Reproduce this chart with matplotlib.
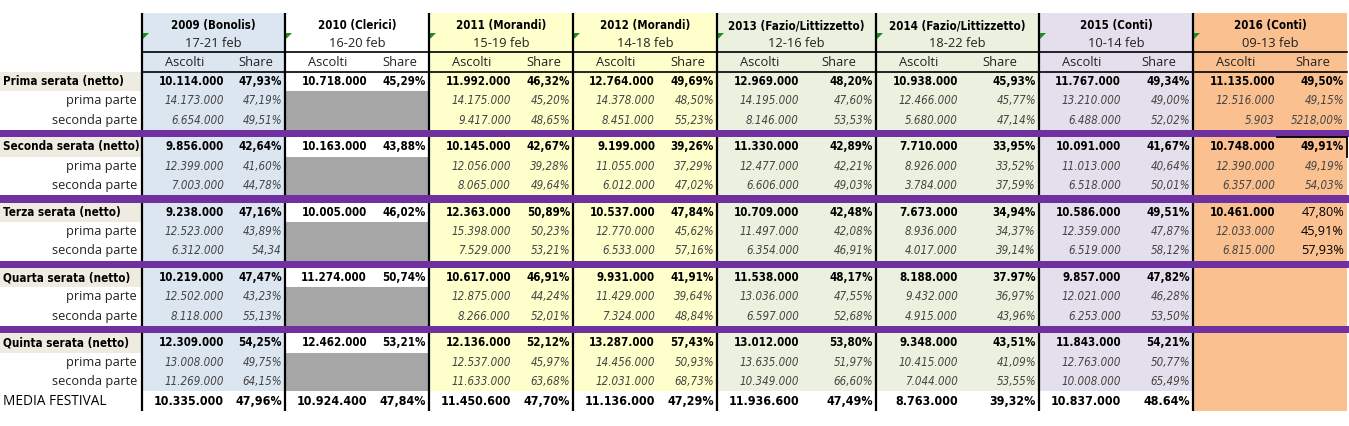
import matplotlib.pyplot as plt
from matplotlib.patches import Rectangle, Polygon

anni = ['2009 (Bonolis)', '2010 (Clerici)', '2011 (Morandi)', '2012 (Morandi)',
        '2013 (Fazio/Littizzetto)', '2014 (Fazio/Littizzetto)', '2015 (Conti)', '2016 (Conti)']
date = ['17-21 feb', '16-20 feb', '15-19 feb', '14-18 feb', '12-16 feb', '18-22 feb', '10-14 feb', '09-13 feb']

serate = ['Prima serata (netto)', 'Seconda serata (netto)', 'Terza serata (netto)',
          'Quarta serata (netto)', 'Quinta serata (netto)']
parti = ['prima parte', 'seconda parte']

# (ascolti, share) per anno, None = cella vuota
prima_netto = [('10.114.000', '47,93%'), ('10.718.000', '45,29%'), ('11.992.000', '46,32%'), ('12.764.000', '49,69%'),
               ('12.969.000', '48,20%'), ('10.938.000', '45,93%'), ('11.767.000', '49,34%'), ('11.135.000', '49,50%')]
prima_p1 = [('14.173.000', '47,19%'), None, ('14.175.000', '45,20%'), ('14.378.000', '48,50%'),
            ('14.195.000', '47,60%'), ('12.466.000', '45,77%'), ('13.210.000', '49,00%'), ('12.516.000', '49,15%')]
prima_p2 = [('6.654.000', '49,51%'), None, ('9.417.000', '48,65%'), ('8.451.000', '55,23%'),
            ('8.146.000', '53,53%'), ('5.680.000', '47,14%'), ('6.488.000', '52,02%'), ('5.903', '5218,00%')]

seconda_netto = [('9.856.000', '42,64%'), ('10.163.000', '43,88%'), ('10.145.000', '42,67%'), ('9.199.000', '39,26%'),
                 ('11.330.000', '42,89%'), ('7.710.000', '33,95%'), ('10.091.000', '41,67%'), ('10.748.000', '49,91%')]
seconda_p1 = [('12.399.000', '41,60%'), None, ('12.056.000', '39,28%'), ('11.055.000', '37,29%'),
              ('12.477.000', '42,21%'), ('8.926.000', '33,52%'), ('11.013.000', '40,64%'), ('12.390.000', '49,19%')]
seconda_p2 = [('7.003.000', '44,78%'), None, ('8.065.000', '49,64%'), ('6.012.000', '47,02%'),
              ('6.606.000', '49,03%'), ('3.784.000', '37,59%'), ('6.518.000', '50,01%'), ('6.357.000', '54,03%')]

terza_netto = [('9.238.000', '47,16%'), ('10.005.000', '46,02%'), ('12.363.000', '50,89%'), ('10.537.000', '47,84%'),
               ('10.709.000', '42,48%'), ('7.673.000', '34,94%'), ('10.586.000', '49,51%'), ('10.461.000', '47,80%')]
terza_p1 = [('12.523.000', '43,89%'), None, ('15.398.000', '50,23%'), ('12.770.000', '45,62%'),
            ('11.497.000', '42,08%'), ('8.936.000', '34,37%'), ('12.359.000', '47,87%'), ('12.033.000', '45,91%')]
terza_p2 = [('6.312.000', '54,34'), None, ('7.529.000', '53,21%'), ('6.533.000', '57,16%'),
            ('6.354.000', '46,91%'), ('4.017.000', '39,14%'), ('6.519.000', '58,12%'), ('6.815.000', '57,93%')]

quarta_netto = [('10.219.000', '47,47%'), ('11.274.000', '50,74%'), ('10.617.000', '46,91%'), ('9.931.000', '41,91%'),
                ('11.538.000', '48,17%'), ('8.188.000', '37.97%'), ('9.857.000', '47,82%'), None]
quarta_p1 = [('12.502.000', '43,23%'), None, ('12.875.000', '44,24%'), ('11.429.000', '39,64%'),
             ('13.036.000', '47,55%'), ('9.432.000', '36,97%'), ('12.021.000', '46,28%'), None]
quarta_p2 = [('8.118.000', '55,13%'), None, ('8.266.000', '52,01%'), ('7.324.000', '48,84%'),
             ('6.597.000', '52,68%'), ('4.915.000', '43,96%'), ('6.253.000', '53,50%'), None]

quinta_netto = [('12.309.000', '54,25%'), ('12.462.000', '53,21%'), ('12.136.000', '52,12%'), ('13.287.000', '57,43%'),
                ('13.012.000', '53,80%'), ('9.348.000', '43,51%'), ('11.843.000', '54,21%'), None]
quinta_p1 = [('13.008.000', '49,75%'), None, ('12.537.000', '45,97%'), ('14.456.000', '50,93%'),
             ('13.635.000', '51,97%'), ('10.415.000', '41,09%'), ('12.763.000', '50,77%'), None]
quinta_p2 = [('11.269.000', '64,15%'), None, ('11.633.000', '63,68%'), ('12.031.000', '68,73%'),
             ('10.349.000', '66,60%'), ('7.044.000', '53,55%'), ('10.008.000', '65,49%'), None]

media = [('10.335.000', '47,96%'), ('10.924.400', '47,84%'), ('11.450.600', '47,70%'), ('11.136.000', '47,29%'),
         ('11.936.600', '47,49%'), ('8.763.000', '39,32%'), ('10.837.000', '48.64%'), None]

blocchi = [(prima_netto, prima_p1, prima_p2),
           (seconda_netto, seconda_p1, seconda_p2),
           (terza_netto, terza_p1, terza_p2),
           (quarta_netto, quarta_p1, quarta_p2),
           (quinta_netto, quinta_p1, quinta_p2)]

# layout (pixel)
bordi = [142, 285, 429, 573, 717, 876, 1039, 1193, 1347]
colori = ['#dce6f1', '#ffffff', '#ffffcc', '#ffffcc', '#ebf1de', '#ebf1de', '#e4dfec', '#fac090']
GRIGIO = '#a6a6a6'
BEIGE = '#eeece1'
VIOLA = '#7030a0'
TOP, H1, H2 = 13, 52, 72
ROW, PITCH = 19.3, 65.3
END = H2 + 4 * PITCH + 3 * ROW
MEDIA_Y = END + 10

SANS = 'DejaVu Sans'
LIGHT = 'Open Sans'
bold = dict(family=SANS, fontweight='bold', fontstretch='condensed', zorder=4)
ital = dict(family=SANS, style='italic', fontstretch='condensed', color='#444444', zorder=4)
light = dict(family=LIGHT, color='#222222', zorder=4)

fig = plt.figure(figsize=(13.49, 4.26), dpi=100)
ax = fig.add_axes([0, 0, 1, 1])
ax.set_xlim(0, 1349)
ax.set_ylim(426, 0)
ax.axis('off')

for i, anno in enumerate(anni):
    x0, x1 = bordi[i], bordi[i + 1]
    bottom = MEDIA_Y + 10 if i == 7 else END
    ax.add_patch(Rectangle((x0, TOP), x1 - x0, bottom - TOP, color=colori[i], zorder=0, lw=0))
    ax.add_patch(Polygon([(x0 + 1, 33), (x0 + 7, 33), (x0 + 1, 39)], color='#1f8a1f', zorder=3, lw=0))
    xc = (x0 + x1) / 2
    ax.text(xc, 26, anno, ha='center', va='center', fontsize=8.3, **bold)
    ax.text(xc, 43.5, date[i], ha='center', va='center', fontsize=9.3, **light)
    ax.text(x0 + 42.5, 62, 'Ascolti', ha='center', va='center', fontsize=9.3, **light)
    ax.text((x0 + 85 + x1) / 2, 62, 'Share', ha='center', va='center', fontsize=9.3, **light)

for k, righe in enumerate(blocchi):
    top = H2 + k * PITCH
    ax.add_patch(Rectangle((0, top), bordi[0], ROW, color=BEIGE, zorder=0, lw=0))
    ax.text(3, top + ROW / 2, serate[k], ha='left', va='center', fontsize=8.4, **bold)
    for r in (1, 2):
        ax.text(137, top + r * ROW + ROW / 2, parti[r - 1], ha='right', va='center', fontsize=9.2, **light)
    if k < 4:
        ax.add_patch(Rectangle((0, top + 3 * ROW), 1349, PITCH - 3 * ROW, color=VIOLA, zorder=2, lw=0))
    for r, riga in enumerate(righe):
        y = top + r * ROW + ROW / 2
        for i, cella in enumerate(riga):
            x0, x1 = bordi[i], bordi[i + 1]
            if cella is None:
                if i == 1:
                    ax.add_patch(Rectangle((x0, top + r * ROW), x1 - x0, ROW, color=GRIGIO, zorder=1, lw=0))
                continue
            asc, sh = cella
            if r == 0:
                ax.text(x0 + 82, y, asc, ha='right', va='center', fontsize=8.3, **bold)
            else:
                ax.text(x0 + 82, y, asc, ha='right', va='center', fontsize=8.3, **ital)
            if i == 7 and k == 2:
                ax.text(x1 - 3, y, sh, ha='right', va='center', fontsize=9.2, family=LIGHT, zorder=4)
            elif r == 0:
                ax.text(x1 - 3, y, sh, ha='right', va='center', fontsize=8.3, **bold)
            else:
                ax.text(x1 - 3, y, sh, ha='right', va='center', fontsize=8.3, **ital)

ax.text(3, MEDIA_Y, 'MEDIA FESTIVAL', ha='left', va='center', fontsize=9.8, family=LIGHT, zorder=4)
for i, cella in enumerate(media):
    if cella is None:
        continue
    x0, x1 = bordi[i], bordi[i + 1]
    ax.text(x0 + 82, MEDIA_Y, cella[0], ha='right', va='center', fontsize=8.9, **bold)
    ax.text(x1 - 3, MEDIA_Y, cella[1], ha='right', va='center', fontsize=8.9, **bold)

# bordi neri
for x in bordi[:-1]:
    ax.plot([x, x], [TOP, MEDIA_Y + 10], color='black', lw=1.6, zorder=1.5, solid_capstyle='butt')
for y in (H1, H2):
    ax.plot([bordi[0], bordi[-1]], [y, y], color='black', lw=1.2, zorder=1.5)
ax.plot([1277, 1347, 1347], [H2 + PITCH, H2 + PITCH, H2 + PITCH + ROW], color='black', lw=1.3, zorder=3)

fig.savefig('out.png', dpi=100)
